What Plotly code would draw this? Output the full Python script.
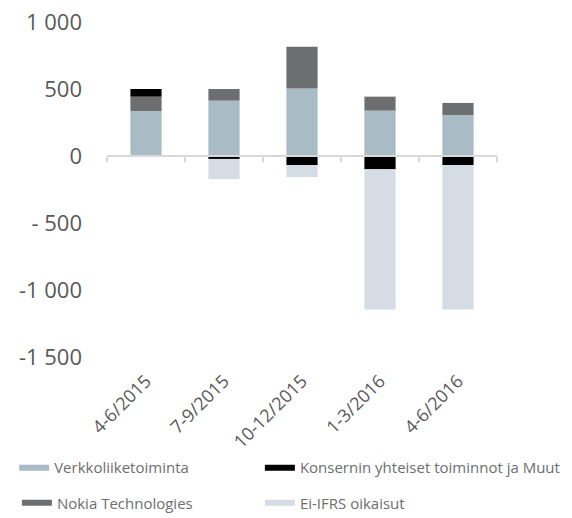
import plotly.graph_objects as go

quarters = ["4-6/2015", "7-9/2015", "10-12/2015", "1-3/2016", "4-6/2016"]
verkko = [336, 413, 503, 339, 306]
nokia_tech = [107, 87, 313, 104, 90]
konserni = [57, -22, -67, -99, -67]
ei_ifrs = [0, -150, -90, -1047, -1079]

y_ticks = [1000, 500, 0, -500, -1000, -1500]
y_labels = ["1 000", "500", "0", "- 500", "-1 000", "-1 500"]

series = [
    ("Verkkoliiketoiminta", verkko, "#a9bbc4"),
    ("Nokia Technologies", nokia_tech, "#6d6e70"),
    ("Konsernin yhteiset toiminnot ja Muut", konserni, "#000000"),
    ("Ei-IFRS oikaisut", ei_ifrs, "#d5dce3"),
]
# one legend per entry: (legend id, x, y) so the 2x2 grid sits like the original
legend_spots = [("legend", -0.238, -0.331), ("legend3", -0.231, -0.436),
                ("legend2", 0.392, -0.331), ("legend4", 0.392, -0.436)]

fig = go.Figure()
for name, vals, col in series:
    fig.add_trace(go.Bar(x=quarters, y=vals, name=name, marker_color=col,
                         marker_line_width=0, width=0.4, showlegend=False))

# legend entries drawn as thick lines to get the wide swatches
for (name, vals, col), (lg, lx, ly) in zip(series, legend_spots):
    fig.add_trace(go.Scatter(x=[None], y=[None], mode="lines", name=name,
                             line=dict(color=col, width=6), legend=lg))

fig.add_trace(go.Scatter(x=quarters, y=[0] * 5, xaxis="x2", mode="markers",
                         marker=dict(opacity=0), showlegend=False, hoverinfo="skip"))

y_min, y_max = -1500, 1000
zero_pos = (0 - y_min) / (y_max - y_min)

legends = {}
for lg, lx, ly in legend_spots:
    legends[lg] = dict(x=lx, y=ly, orientation="h", xanchor="left", yanchor="middle",
                       font=dict(size=15, color="#6d6e70"), bgcolor="rgba(0,0,0,0)")

fig.update_layout(
    barmode="relative",
    width=564, height=510,
    margin=dict(l=99, r=75, t=14, b=161, autoexpand=False),
    plot_bgcolor="white", paper_bgcolor="white",
    font=dict(family="Open Sans", color="#595959"),
    xaxis=dict(type="category", categoryarray=quarters, range=[-0.5, 4.5],
               showline=False, showgrid=False, zeroline=False, automargin=False,
               tickangle=-45, tickfont=dict(size=18, color="#595959"),
               ticks="", ticklabelstandoff=9),
    xaxis2=dict(type="category", categoryarray=quarters, range=[-0.5, 4.5],
                overlaying="x", anchor="free", position=zero_pos,
                showline=True, linecolor="#d9d9d9", linewidth=2,
                ticks="outside", tickson="boundaries", ticklen=5,
                tickcolor="#d9d9d9", tickwidth=1.5, automargin=False,
                showticklabels=False, showgrid=False, zeroline=False),
    yaxis=dict(range=[y_min, y_max], tickvals=y_ticks, ticktext=y_labels,
               showgrid=False, zeroline=False, showline=False, automargin=False,
               tickfont=dict(size=22, color="#595959"), ticklabelstandoff=24,
               ticklabeloverflow="allow"),
    bargap=0.6,
    **legends,
)

fig.write_html("out.html")
